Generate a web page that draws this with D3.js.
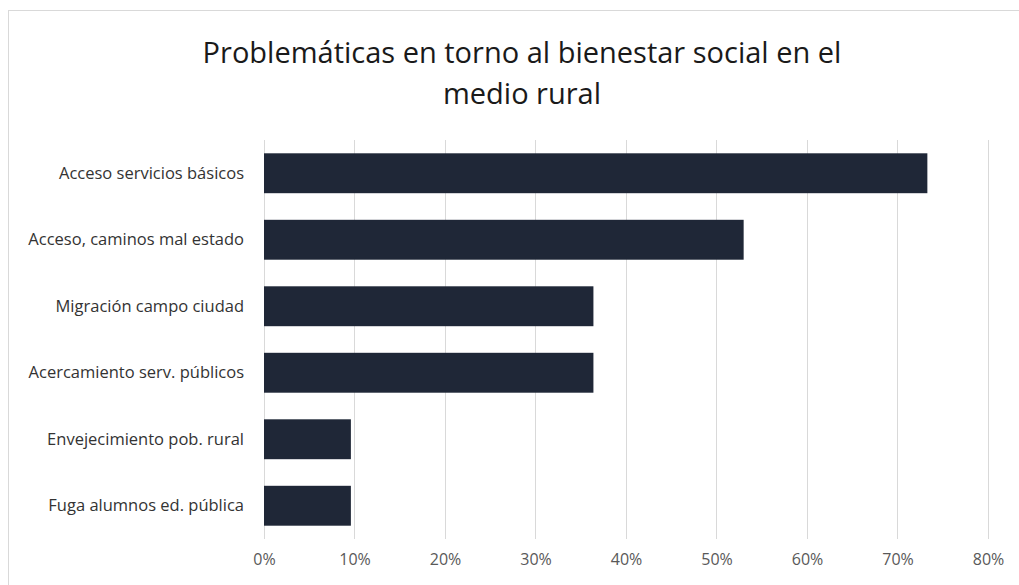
<!DOCTYPE html>
<html><head><meta charset="utf-8">
<script src="https://cdn.jsdelivr.net/npm/d3@7"></script>
<style>body{margin:0;background:#fff;} svg{display:block;font-family:"Open Sans", sans-serif;}</style>
</head><body>
<svg id="c" width="1019" height="585"></svg>
<script>
const categories = ["Acceso servicios básicos","Acceso, caminos mal estado","Migración campo ciudad","Acercamiento serv. públicos","Envejecimiento pob. rural","Fuga alumnos ed. pública"];
const values = [0.733, 0.53, 0.364, 0.364, 0.096, 0.096];
const ticks = [0,0.1,0.2,0.3,0.4,0.5,0.6,0.7,0.8];
const titleLines = ["Problemáticas en torno al bienestar social en el","medio rural"];

const svg = d3.select("#c");
svg.append("rect").attr("x",8.5).attr("y",10.5).attr("width",1030).attr("height",600).attr("fill","#fff").attr("stroke","#d9d9d9");

const x = d3.scaleLinear().domain([0,0.8]).range([264,988]);
const y = d3.scaleBand().domain(categories).range([140,539]).paddingInner(0.4).paddingOuter(0.2);

svg.append("g").selectAll("line").data(ticks).join("line")
  .attr("x1",d=>x(d)).attr("x2",d=>x(d)).attr("y1",140).attr("y2",539)
  .attr("stroke","#d9d9d9").attr("stroke-width",1).attr("shape-rendering","crispEdges");

svg.append("g").selectAll("rect").data(values).join("rect")
  .attr("x",x(0)).attr("y",(d,i)=>y(categories[i]))
  .attr("width",d=>x(d)-x(0)).attr("height",y.bandwidth())
  .attr("fill","#1f2737");

const xa = d3.axisBottom(x).tickValues(ticks).tickFormat(d3.format(".0%")).tickSize(0).tickPadding(0);
const gx = svg.append("g").attr("transform","translate(0,553)").call(xa);
gx.select(".domain").remove();
gx.selectAll("text").attr("font-size",16).attr("fill","#595959").attr("font-family","'Open Sans', sans-serif").attr("dy","0.75em");

const ya = d3.axisLeft(y).tickSize(0).tickPadding(0);
const gy = svg.append("g").attr("transform","translate(244,0)").call(ya);
gy.select(".domain").remove();
gy.selectAll("text").attr("font-size",16.5).attr("fill","#333").attr("font-family","'Open Sans', sans-serif");

svg.append("g").selectAll("text").data(titleLines).join("text")
  .attr("x",522).attr("y",(d,i)=>63+i*41).attr("text-anchor","middle")
  .attr("font-size",29).attr("fill","#1a1a1a").text(d=>d);
</script>
</body></html>
